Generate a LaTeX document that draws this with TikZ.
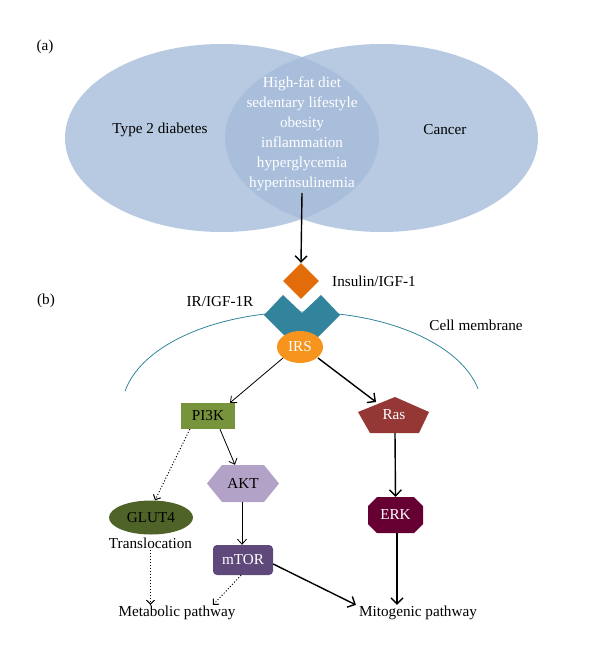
\documentclass[tikz,border=0pt]{standalone}
\usepackage{fontspec}
\setmainfont{Liberation Serif}
\usetikzlibrary{arrows.meta,shapes.geometric}
\definecolor{vennfill}{HTML}{B7CAE2}
\definecolor{vennover}{HTML}{A9BEDB}
\definecolor{insorange}{HTML}{E36C0A}
\definecolor{recteal}{HTML}{31849B}
\definecolor{irsorange}{HTML}{F7941D}
\definecolor{pigreen}{HTML}{77933C}
\definecolor{rasred}{HTML}{953735}
\definecolor{aktlav}{HTML}{B3A2C7}
\definecolor{erkmar}{HTML}{660033}
\definecolor{mtorpur}{HTML}{5F497A}
\definecolor{glutolive}{HTML}{4F6228}
\tikzset{
  lbl/.style={inner sep=1pt},
  conn/.style={line width=0.8pt, -{Straight Barb[length=5pt,width=9pt]}},
  boldconn/.style={line width=1.4pt, -{Straight Barb[length=6pt,width=12pt]}},
  dotconn/.style={dotted, line width=1pt, -{Straight Barb[length=4pt,width=8pt]}},
  holder/.style={inner sep=0pt, minimum width=#1}
}
\begin{document}
\begin{tikzpicture}[x=1pt,y=-1pt,font=\fontsize{15.2}{20}\selectfont]
\useasboundingbox (0,0) rectangle (600,653);

% (a) Venn diagram
\node[lbl] (alab) at (45,47) {(a)};
\fill[vennfill] (222,138) ellipse [x radius=157pt, y radius=94pt];
\fill[vennfill] (381.5,138) ellipse [x radius=156.5pt, y radius=94pt];
\begin{scope}
  \clip (222,138) ellipse [x radius=157pt, y radius=94pt];
  \fill[vennover] (381.5,138) ellipse [x radius=156.5pt, y radius=94pt];
\end{scope}
\node[lbl] (t2d) at (160,130) {Type 2 diabetes};
\node[lbl] (cancer) at (445,130) {Cancer};
\node[lbl, text=white, align=center] (risk) at (302,134)
  {High-fat diet\\sedentary lifestyle\\obesity\\inflammation\\hyperglycemia\\hyperinsulinemia};
\coordinate (riskout) at (302,193);

% (b) signalling
\node[lbl] (blab) at (46,301) {(b)};

% membrane
\draw[recteal, line width=0.8pt, domain=12:169.5, samples=60, smooth]
  plot ({302+180*cos(\x)}, {409-97*sin(\x)});
\node[lbl] (memlab) at (476,325) {Cell membrane};

% insulin
\node[diamond, fill=insorange, minimum width=36pt, minimum height=36pt, inner sep=0pt] (ins) at (301,281) {};
\node[lbl, anchor=west] (inslab) at (331,281) {Insulin/IGF-1};
\draw[boldconn] (riskout) -- (ins.north);

% receptor
\fill[recteal] (264,315) -- (283,295) -- (302,313) -- (321,295) -- (340,315) -- (302,353) -- cycle;
\node[holder=76pt, minimum height=58pt] (rec) at (302,324) {};
\node[lbl] (reclab) at (220,302) {IR/IGF-1R};

% IRS
\node[ellipse, fill=irsorange, text=white, minimum width=46pt, minimum height=32pt, inner sep=0pt] (irs) at (300,347) {IRS};

% PI3K
\node[rectangle, fill=pigreen, minimum width=54pt, minimum height=26pt, inner sep=0pt] (pi3k) at (208,416) {PI3K};

% Ras
\fill[rasred] (395,397) -- (429,412) -- (419,433) -- (370,433) -- (358,412) -- cycle;
\node[holder=71pt, minimum height=36pt, text=white] (ras) at (394,415) {Ras};

% AKT
\fill[aktlav] (207,483.5) -- (222,465) -- (264,465) -- (279,483.5) -- (264,502) -- (222,502) -- cycle;
\node[holder=72pt, minimum height=37pt] (akt) at (243,483.5) {AKT};

% ERK
\fill[erkmar] (377,497) -- (414,497) -- (423,506) -- (423,524) -- (414,533) -- (377,533) -- (368,524) -- (368,506) -- cycle;
\node[holder=55pt, minimum height=36pt, text=white] (erk) at (395.5,515) {ERK};

% mTOR
\node[rectangle, rounded corners=4pt, fill=mtorpur, text=white, minimum width=60pt, minimum height=30pt, inner sep=0pt] (mtor) at (243,560) {mTOR};

% GLUT4
\node[ellipse, fill=glutolive, minimum width=84pt, minimum height=34pt, inner sep=0pt] (glut) at (151,517.5) {GLUT4};
\node[lbl] (trans) at (150.5,543) {Translocation};

% pathways
\node[lbl] (meta) at (177,613) {Metabolic pathway};
\node[lbl] (mito) at (418,613) {Mitogenic pathway};

% connectors
\draw[conn] ([xshift=-17pt,yshift=-11pt]irs.center) -- ([xshift=22pt]pi3k.north);
\draw[boldconn] ([xshift=18pt,yshift=-11pt]irs.center) -- ([xshift=-18pt,yshift=13pt]ras.center);
\draw[boldconn] ([xshift=1pt]ras.south) -- (erk.north);
\draw[boldconn] ([xshift=1.5pt]erk.south) -- ([xshift=1.5pt]erk.south |- mito.north);
\draw[conn] ([xshift=12pt]pi3k.south) -- ([xshift=-8pt]akt.north);
\draw[conn] ([xshift=-1pt]akt.south) -- ([xshift=-1pt]mtor.north);
\draw[boldconn] ([yshift=-4pt]mtor.east) -- ([xshift=-2pt]mito.north west);
\draw[dotconn] ([xshift=9pt]pi3k.south west) -- ([xshift=4pt]glut.north);
\draw[dotconn] (trans.south) -- (trans.south |- meta.north);
\draw[dotconn] ([xshift=-2pt]mtor.south) -- ([xshift=36pt]meta.north);
\end{tikzpicture}
\end{document}
